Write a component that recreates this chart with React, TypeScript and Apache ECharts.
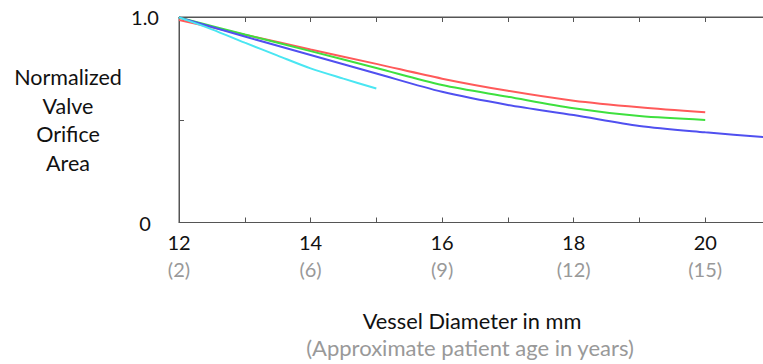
import React, { useEffect, useRef } from "react";
import * as echarts from "echarts";

const diameterTicks = [12, 14, 16, 18, 20];
const ageLabels = ["(2)", "(6)", "(9)", "(12)", "(15)"];

const redX = [12, 13, 14, 15, 16, 17, 18, 19, 20];
const redY = [0.985, 0.914, 0.842, 0.772, 0.7, 0.641, 0.593, 0.561, 0.536];

const greenX = [12, 13, 14, 15, 16, 17, 18, 19, 20];
const greenY = [0.998, 0.915, 0.834, 0.752, 0.669, 0.612, 0.556, 0.518, 0.499];

const blueX = [12, 13, 14, 15, 16, 17, 18, 19, 20, 21];
const blueY = [0.998, 0.905, 0.815, 0.725, 0.636, 0.572, 0.523, 0.47, 0.439, 0.413];

const cyanX = [12, 12.5, 13, 13.5, 14, 14.5, 15];
const cyanY = [0.998, 0.94, 0.875, 0.812, 0.75, 0.7, 0.652];

const zip = (xs: number[], ys: number[]) => xs.map((x, i) => [x, ys[i]]);

const FONT = "Lato";

export default function App() {
  const ref = useRef<HTMLDivElement>(null);
  useEffect(() => {
    const chart = echarts.init(ref.current!, undefined, { renderer: "svg" });
    const line = (name: string, data: number[][], color: string) => ({
      name,
      type: "line",
      data,
      smooth: 0.3,
      showSymbol: false,
      symbol: "none",
      lineStyle: { color, width: 2 },
      xAxisIndex: 0,
      yAxisIndex: 0,
    });
    chart.setOption({
      animation: false,
      grid: {
        left: 179,
        width: 592,
        top: 17,
        height: 205.5,
        outerBoundsMode: "none",
        containLabel: false,
        show: true,
        borderColor: "#555",
        borderWidth: 1,
        backgroundColor: "transparent",
      },
      xAxis: [
        {
          type: "value",
          position: "bottom",
          min: 12,
          max: 21,
          interval: 1,
          splitLine: { show: false },
          axisLine: { show: true, lineStyle: { color: "#555", width: 1 } },
          axisTick: { show: true, inside: true, length: 5, lineStyle: { color: "#555" } },
          axisLabel: {
            margin: 6,
            showMaxLabel: false,
            formatter: (v: number) => {
              const i = diameterTicks.indexOf(v);
              if (i < 0) return "";
              return `{a|${v}}\n{b|${ageLabels[i]}}`;
            },
            rich: {
              a: { fontFamily: FONT, fontSize: 20, color: "#111", lineHeight: 27 },
              b: { fontFamily: FONT, fontSize: 20, color: "#999", lineHeight: 27 },
            },
          },
        },
        {
          type: "value",
          position: "top",
          min: 12,
          max: 21,
          interval: 1,
          splitLine: { show: false },
          axisLine: { show: true, lineStyle: { color: "#555", width: 1 } },
          axisTick: { show: true, inside: true, length: 5, lineStyle: { color: "#555" } },
          axisLabel: { show: false },
        },
      ],
      yAxis: {
        type: "value",
        min: 0,
        max: 1,
        interval: 0.5,
        splitLine: { show: false },
        axisLine: { show: true, lineStyle: { color: "#555", width: 1 } },
        axisTick: { show: true, inside: true, length: 5, lineStyle: { color: "#555" } },
        axisLabel: {
          margin: 34,
          align: "center",
          fontFamily: FONT,
          fontSize: 20,
          color: "#111",
          formatter: (v: number) => (v === 0 ? "0" : v === 1 ? "1.0" : ""),
        },
      },
      series: [
        line("red", zip(redX, redY), "#ff5a5a"),
        line("green", zip(greenX, greenY), "#3ee03e"),
        line("blue", zip(blueX, blueY), "#5050f0"),
        line("cyan", zip(cyanX, cyanY), "#4ae6f2"),
      ],
      graphic: [
        {
          type: "text",
          x: 68,
          y: 120,
          style: {
            text: "Normalized\nValve\nOrifice\nArea",
            fontFamily: FONT,
            fontSize: 21.5,
            lineHeight: 28.5,
            fill: "#111",
            align: "center",
            verticalAlign: "middle",
          },
        },
        {
          type: "text",
          x: 472,
          y: 320,
          style: {
            text: "Vessel Diameter in mm",
            fontFamily: FONT,
            fontSize: 21.8,
            fill: "#111",
            align: "center",
            verticalAlign: "middle",
          },
        },
        {
          type: "text",
          x: 470,
          y: 347,
          style: {
            text: "(Approximate patient age in years)",
            fontFamily: FONT,
            fontSize: 22,
            fill: "#999",
            align: "center",
            verticalAlign: "middle",
          },
        },
      ],
    });
    return () => chart.dispose();
  }, []);
  return (
    <div
      ref={ref}
      style={{ position: "absolute", left: 0, top: 0, width: 763, height: 364, background: "#fff" }}
    />
  );
}
